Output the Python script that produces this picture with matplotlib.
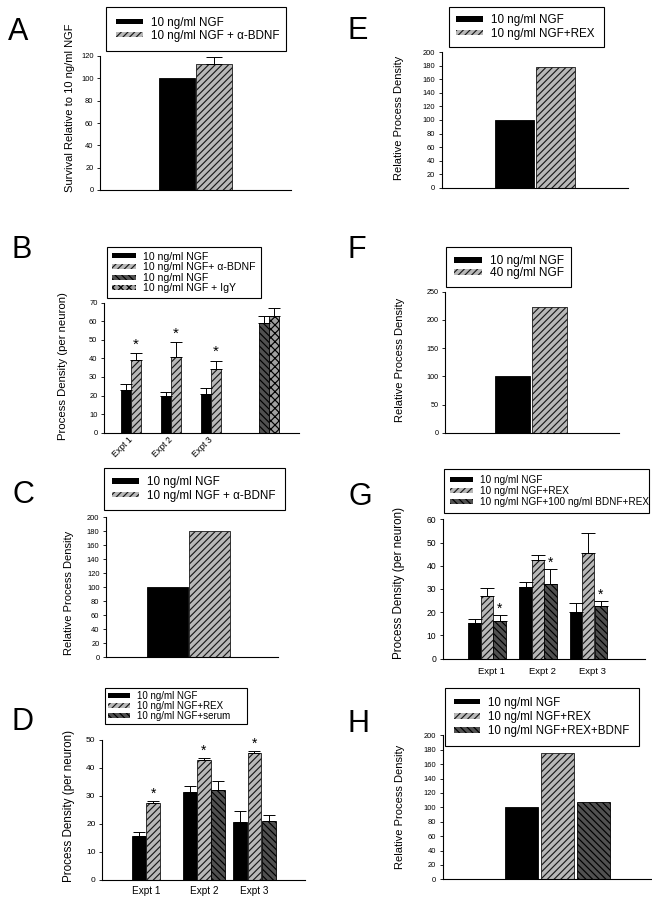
import numpy as np
import matplotlib
matplotlib.use('Agg')
import matplotlib.pyplot as plt
from matplotlib.patches import Patch

plt.rcParams['font.family'] = ['Liberation Sans', 'DejaVu Sans']
plt.rcParams['hatch.linewidth'] = 0.85

# ---------------- data ----------------
# Panel A
a_labels = ['10 ng/ml NGF', '10 ng/ml NGF + α-BDNF']
a_values = [100, 112.5]
a_err = [0, 6.3]

# Panel B
b_groups = ['Expt 1', 'Expt 2', 'Expt 3']
b_labels = ['10 ng/ml NGF', '10 ng/ml NGF+ α-BDNF', '10 ng/ml NGF', '10 ng/ml NGF + IgY']
b_ngf = [23.0, 19.9, 20.6]
b_ngf_err = [3.0, 2.2, 3.6]
b_abdnf = [39.1, 40.9, 34.1]
b_abdnf_err = [3.6, 7.7, 4.7]
b_ctrl = [58.9]
b_ctrl_err = [3.9]
b_igy = [62.8]
b_igy_err = [4.2]

# Panel C
c_labels = ['10 ng/ml NGF', '10 ng/ml NGF + α-BDNF']
c_values = [100, 180]

# Panel D
d_groups = ['Expt 1', 'Expt 2', 'Expt 3']
d_labels = ['10 ng/ml NGF', '10 ng/ml NGF+REX', '10 ng/ml NGF+serum']
d_ngf = [15.7, 31.3, 20.7]
d_ngf_err = [1.6, 2.3, 3.8]
d_rex = [27.4, 42.7, 45.5]
d_rex_err = [0.9, 0.8, 0.7]
d_serum = [np.nan, 32.3, 21.1]
d_serum_err = [np.nan, 2.9, 2.0]

# Panel E
e_labels = ['10 ng/ml NGF', '10 ng/ml NGF+REX']
e_values = [100, 179]

# Panel F
f_labels = ['10 ng/ml NGF', '40 ng/ml NGF']
f_values = [100, 223]

# Panel G
g_groups = ['Expt 1', 'Expt 2', 'Expt 3']
g_labels = ['10 ng/ml NGF', '10 ng/ml NGF+REX', '10 ng/ml NGF+100 ng/ml BDNF+REX']
g_ngf = [15.3, 30.9, 20.1]
g_ngf_err = [1.7, 2.1, 3.8]
g_rex = [27.0, 42.4, 45.3]
g_rex_err = [3.4, 2.3, 8.8]
g_bdnf = [16.3, 32.2, 22.6]
g_bdnf_err = [2.3, 6.4, 2.1]

# Panel H
h_labels = ['10 ng/ml NGF', '10 ng/ml NGF+REX', '10 ng/ml NGF+REX+BDNF']
h_values = [100, 175.5, 108]

# ---------------- styles ----------------
BLACK = dict(facecolor='black', edgecolor='black')
LIGHT = dict(facecolor='#b8b8b8', edgecolor='#1a1a1a', hatch='/////')
DARK = dict(facecolor='#505050', edgecolor='black', hatch='\\\\\\\\\\')
CHECK = dict(facecolor='#a0a0a0', edgecolor='black', hatch='xxxx')

W, H = 652, 899
fig = plt.figure(figsize=(W / 100, H / 100), dpi=100)


def add_ax(l, t, r, b):
    return fig.add_axes([l / W, 1 - b / H, (r - l) / W, (b - t) / H])


def style_ax(ax, ymax, step, fs=5.4, xlim=None):
    ax.set_ylim(0, ymax)
    ax.set_yticks(np.arange(0, ymax + step / 2, step))
    ax.spines['top'].set_visible(False)
    ax.spines['right'].set_visible(False)
    for s in ('left', 'bottom'):
        ax.spines[s].set_linewidth(0.8)
    ax.tick_params(axis='y', labelsize=fs, length=2.2, width=0.6, pad=2.5)
    ax.tick_params(axis='x', length=0)
    ax.set_xticks([])
    if xlim is not None:
        ax.set_xlim(*xlim)
    ax.patch.set_alpha(0)


def bars(ax, x, vals, width, style):
    ax.bar(x, vals, width, linewidth=0.6, **style)


def errs(ax, x, vals, err, cs):
    x = np.asarray(x, float)
    vals = np.asarray(vals, float)
    err = np.asarray(err, float)
    m = np.isfinite(err) & (err > 0)
    ax.errorbar(x[m], vals[m], yerr=[np.zeros(m.sum()), err[m]], fmt='none',
                ecolor='black', elinewidth=0.7, capsize=cs, capthick=0.7)


def stars(ax, x, vals, err, off, fs=11):
    for xi, v, e in zip(x, vals, err):
        ax.annotate('*', (xi, v + e), xytext=(0, off), textcoords='offset points',
                    ha='center', va='baseline', fontsize=fs)


def legend(handles, labels, l, t, r, fs, ls=0.1, bp=0.6):
    lg = fig.legend(handles, labels, loc='upper left',
                    bbox_to_anchor=(l / W, 1 - t / H, (r - l) / W, 0),
                    mode='expand', borderaxespad=0, fontsize=fs,
                    handlelength=2.3, handleheight=0.35, handletextpad=0.7,
                    labelspacing=ls, borderpad=bp, fancybox=False,
                    framealpha=1, edgecolor='black')
    lg.get_frame().set_linewidth(0.8)
    return lg


def hpatch(style):
    return Patch(linewidth=0, **style)


def ylabel(text, x, y, fs=8):
    fig.text(x / W, 1 - y / H, text, rotation=90, ha='center', va='center', fontsize=fs)


def panel(letter, x, y):
    fig.text(x / W, 1 - y / H, letter, fontsize=22, ha='left', va='baseline')


# ---------------- Panel A ----------------
ax = add_ax(100, 56, 291, 190)
style_ax(ax, 120, 20, xlim=(-2.55, 2.55))
xa = np.array([-0.5, 0.5])
bars(ax, xa[0], a_values[0], 0.97, BLACK)
bars(ax, xa[1], a_values[1], 0.97, LIGHT)
errs(ax, xa, a_values, a_err, 6)
legend([hpatch(BLACK), hpatch(LIGHT)], a_labels, 106, 7, 286, 8.4, ls=0.05, bp=0.85)
ylabel('Survival Relative to 10 ng/ml NGF', 70, 108)
panel('A', 8, 40)

# ---------------- Panel B ----------------
ax = add_ax(104, 302.7, 299, 432.7)
style_ax(ax, 70, 10, xlim=(-0.675, 4.2))
b_pos = np.array([0, 1, 2])
b_pos4 = np.array([3.45])
bw = 0.25
bars(ax, b_pos - bw / 2, b_ngf, bw * 0.97, BLACK)
bars(ax, b_pos + bw / 2, b_abdnf, bw * 0.97, LIGHT)
bars(ax, b_pos4 - bw / 2, b_ctrl, bw * 0.97, DARK)
bars(ax, b_pos4 + bw / 2, b_igy, bw * 0.97, CHECK)
errs(ax, b_pos - bw / 2, b_ngf, b_ngf_err, 4)
errs(ax, b_pos + bw / 2, b_abdnf, b_abdnf_err, 4)
errs(ax, b_pos4 - bw / 2, b_ctrl, b_ctrl_err, 4)
errs(ax, b_pos4 + bw / 2, b_igy, b_igy_err, 4)
stars(ax, b_pos + bw / 2, b_abdnf, b_abdnf_err, 3.5)
ax.set_xticks(b_pos + 0.1)
ax.set_xticklabels(b_groups, rotation=45, ha='right', va='top', fontsize=6.3)
ax.tick_params(axis='x', length=0, pad=2)
legend([hpatch(BLACK), hpatch(LIGHT), hpatch(DARK), hpatch(CHECK)], b_labels,
       107, 247, 261, 7.6, ls=0.05, bp=0.45)
ylabel('Process Density (per neuron)', 63, 366, fs=8.2)
panel('B', 12, 258)

# ---------------- Panel C ----------------
ax = add_ax(106, 517.3, 278, 657.3)
style_ax(ax, 200, 20, xlim=(-1.96, 2.13))
bars(ax, -0.5, c_values[0], 0.97, BLACK)
bars(ax, 0.5, c_values[1], 0.97, LIGHT)
legend([hpatch(BLACK), hpatch(LIGHT)], c_labels, 104, 468, 285, 8.4, ls=0.15, bp=0.7)
ylabel('Relative Process Density', 69, 593)
panel('C', 12, 503)

# ---------------- Panel D ----------------
ax = add_ax(102, 740, 305, 880)
style_ax(ax, 50, 10, fs=6, xlim=(-0.863, 3.118))
d_pos = np.array([0, 1.137, 2.127])
dw = 0.28
series_d = [(d_ngf, d_ngf_err, BLACK), (d_rex, d_rex_err, LIGHT), (d_serum, d_serum_err, DARK)]
for gi, gx in enumerate(d_pos):
    present = [k for k, s in enumerate(series_d) if np.isfinite(s[0][gi])]
    n = len(present)
    for j, k in enumerate(present):
        vals, err, st = series_d[k]
        xx = gx + (j - (n - 1) / 2) * dw
        bars(ax, xx, vals[gi], dw * 0.97, st)
        errs(ax, [xx], [vals[gi]], [err[gi]], 4)
        if k == 1:
            stars(ax, [xx], [vals[gi]], [err[gi]], 2.2, fs=10)
ax.set_xticks(d_pos)
ax.set_xticklabels(d_groups, fontsize=7.2)
ax.tick_params(axis='x', length=0, pad=4)
legend([hpatch(BLACK), hpatch(LIGHT), hpatch(DARK)], d_labels, 105, 688, 247, 7.0,
       ls=0.0, bp=0.3)
ylabel('Process Density (per neuron)', 69, 806, fs=8.4)
panel('D', 12, 730)

# ---------------- Panel E ----------------
ax = add_ax(441.7, 52.3, 628, 187.7)
style_ax(ax, 200, 20, xlim=(-2.28, 2.26))
bars(ax, -0.5, e_values[0], 0.95, BLACK)
bars(ax, 0.5, e_values[1], 0.95, LIGHT)
legend([hpatch(BLACK), hpatch(LIGHT)], e_labels, 449, 7, 604, 8.4, ls=0.15, bp=0.6)
ylabel('Relative Process Density', 399, 118)
panel('E', 347, 39)

# ---------------- Panel F ----------------
ax = add_ax(445, 291.7, 619, 432.7)
style_ax(ax, 250, 50, fs=5.2, xlim=(-2.36, 2.41))
bars(ax, -0.5, f_values[0], 0.96, BLACK)
bars(ax, 0.5, f_values[1], 0.96, LIGHT)
legend([hpatch(BLACK), hpatch(LIGHT)], f_labels, 445.7, 246.7, 570.7, 8.6, ls=0.0, bp=0.7)
ylabel('Relative Process Density', 400, 360)
panel('F', 348, 258)

# ---------------- Panel G ----------------
ax = add_ax(442.7, 519.3, 645, 658.5)
style_ax(ax, 60, 10, fs=6.2, xlim=(-0.87, 3.1))
g_pos = np.array([0, 1, 1.99])
gw = 0.245
for k, (vals, err, st) in enumerate([(g_ngf, g_ngf_err, BLACK), (g_rex, g_rex_err, LIGHT),
                                     (g_bdnf, g_bdnf_err, DARK)]):
    xx = g_pos + (k - 1) * gw
    bars(ax, xx, vals, gw * 0.97, st)
    errs(ax, xx, vals, err, 5)
    if k == 2:
        stars(ax, xx, vals, err, 1.5, fs=10)
ax.set_xticks(g_pos + 0.08)
ax.set_xticklabels(g_groups, fontsize=6.8)
ax.tick_params(axis='x', length=0, pad=6)
legend([hpatch(BLACK), hpatch(LIGHT), hpatch(DARK)], g_labels, 444, 469, 649, 7.2,
       ls=0.1, bp=0.6)
ylabel('Process Density (per neuron)', 399, 583, fs=8.4)
panel('G', 348, 505)

# ---------------- Panel H ----------------
ax = add_ax(442.7, 735.3, 652, 879.3)
style_ax(ax, 200, 20, xlim=(-3.22, 2.65))
h_styles = [BLACK, LIGHT, DARK]
for k in range(3):
    bars(ax, k - 1, h_values[k], 0.93, h_styles[k])
legend([hpatch(s) for s in h_styles], h_labels, 445, 688, 639, 8.3, ls=0.2, bp=0.75)
ylabel('Relative Process Density', 400, 807)
panel('H', 348, 732)

fig.savefig('out.png', dpi=100)
